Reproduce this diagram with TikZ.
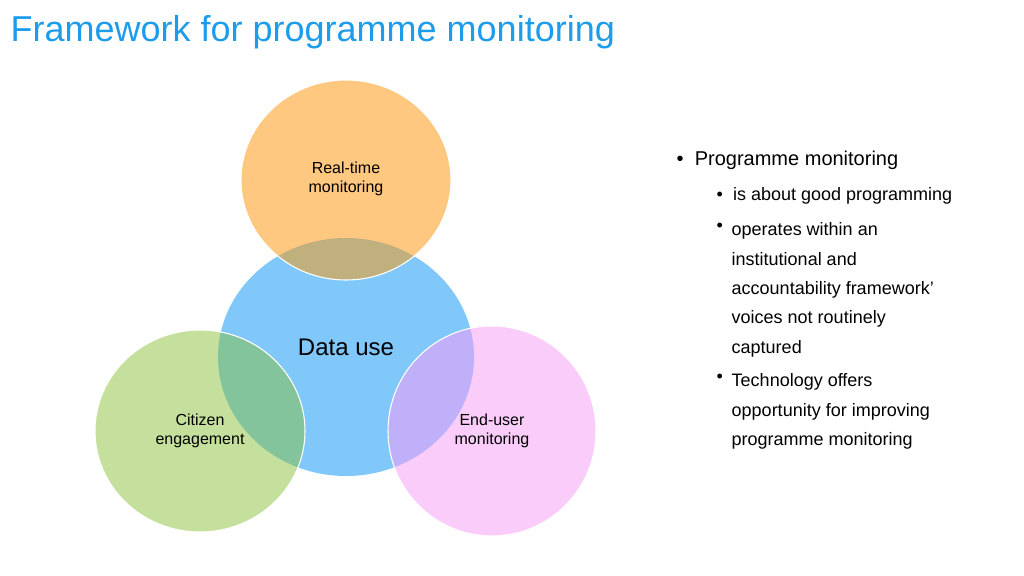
\documentclass[tikz,border=0pt]{standalone}
\usepackage{fontspec}
\setmainfont{Liberation Sans}
\definecolor{titleblue}{HTML}{1C9CEB}
\definecolor{cblue}{HTML}{80C8FA}
\definecolor{corange}{HTML}{FFC880}
\definecolor{cgreen}{HTML}{C5E09C}
\definecolor{cpink}{HTML}{FACCFA}
\definecolor{ovorange}{HTML}{BFB07E}
\definecolor{ovgreen}{HTML}{84C49C}
\definecolor{ovpink}{HTML}{C0B0FA}
\tikzset{
  bubble/.style={draw=white, line width=0.8pt},
  label/.style={align=center, font=\fontsize{12}{14}\selectfont},
  bullet/.style={anchor=west, align=left, font=\fontsize{15}{22}\selectfont}
}
\begin{document}
\begin{tikzpicture}[x=0.75pt,y=-0.75pt]
    \useasboundingbox (0,0) rectangle (1024,575);
    % Title
    \node[anchor=west, text=titleblue, font=\fontsize{27}{32}\selectfont] (title) at (6,32) {Framework for programme monitoring};
    % Circles
    \fill[cblue] (346,357) ellipse [x radius=128, y radius=119];
    \fill[corange] (346,180) ellipse [x radius=105, y radius=100];
    \fill[cgreen] (200,431) ellipse [x radius=105, y radius=101];
    \fill[cpink] (492,431) ellipse [x radius=104, y radius=105];
    % Overlaps
    \begin{scope}
        \clip (346,357) ellipse [x radius=128, y radius=119];
        \fill[ovorange] (346,180) ellipse [x radius=105, y radius=100];
        \fill[ovgreen] (200,431) ellipse [x radius=105, y radius=101];
        \fill[ovpink] (492,431) ellipse [x radius=104, y radius=105];
    \end{scope}
    % Outlines
    \draw[bubble] (346,180) ellipse [x radius=105, y radius=100];
    \draw[bubble] (200,431) ellipse [x radius=105, y radius=101];
    \draw[bubble] (492,431) ellipse [x radius=104, y radius=105];
    % Labels
    \node[label] (realtime) at (346,179) {Real-time\\monitoring};
    \node[label, font=\fontsize{18}{20}\selectfont] (datause) at (346,347) {Data use};
    \node[label] (citizen) at (200,431) {Citizen\\engagement};
    \node[label] (enduser) at (492,431) {End-user\\monitoring};
    % Bullets
    \node[bullet] (b1) at (672,160) {\textbullet\ \ Programme monitoring};
    \node[bullet, font=\fontsize{13.5}{22}\selectfont] (b2) at (712,196) {\textbullet\ \ is about good programming};
    \node[bullet, font=\fontsize{13.5}{22}\selectfont, anchor=north west] (b3) at (712,218) {\textbullet};
    \node[bullet, font=\fontsize{13.5}{22}\selectfont, anchor=north west] (b3t) at (727,218) {operates within an\\institutional and\\accountability framework’\\voices not routinely\\captured};
    \node[bullet, font=\fontsize{13.5}{22}\selectfont, anchor=north west] (b4) at (712,369) {\textbullet};
    \node[bullet, font=\fontsize{13.5}{22}\selectfont, anchor=north west] (b4t) at (727,369) {Technology offers\\opportunity for improving\\programme monitoring};
\end{tikzpicture}
\end{document}
